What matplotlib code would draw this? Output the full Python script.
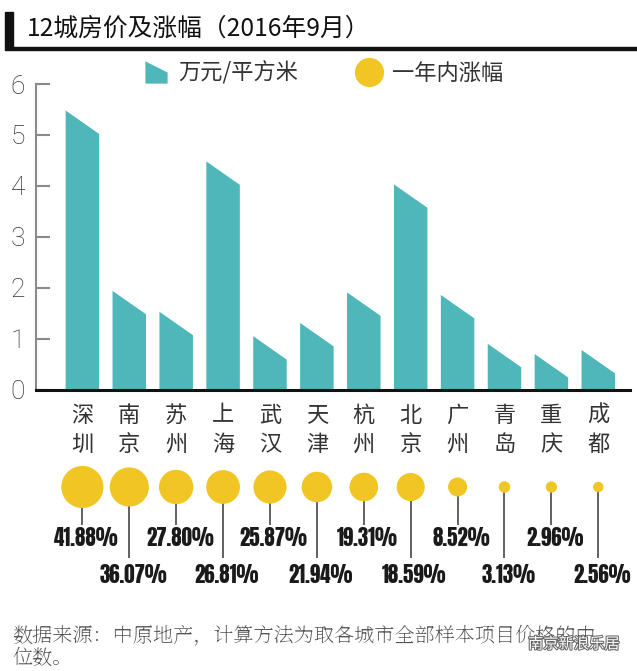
import matplotlib
matplotlib.use("Agg")
import matplotlib.pyplot as plt
from matplotlib.patches import Rectangle
from matplotlib.lines import Line2D
from matplotlib.path import Path
import matplotlib.patheffects as pe
import logging
logging.getLogger("matplotlib.font_manager").setLevel(logging.ERROR)

plt.rcParams['font.family'] = ['Noto Sans CJK SC', 'DejaVu Sans']

# ---------------- data ----------------
cities = ["深圳", "南京", "苏州", "上海", "武汉", "天津", "杭州", "北京", "广州", "青岛", "重庆", "成都"]
prices = [5.48, 1.94, 1.53, 4.48, 1.05, 1.31, 1.91, 4.03, 1.86, 0.90, 0.70, 0.78]   # 万元/平方米
growth = [41.88, 36.07, 27.80, 26.81, 25.87, 21.94, 19.31, 18.59, 8.52, 3.13, 2.96, 2.56]  # 一年内涨幅 %
yticks = [0, 1, 2, 3, 4, 5, 6]
title = "12城房价及涨幅（2016年9月）"
legend_labels = ["万元/平方米", "一年内涨幅"]
footer = "数据来源：中原地产，计算方法为取各城市全部样本项目价格的中\n位数。"

# ---------------- style ----------------
TEAL = "#4fb6b9"
YELLOW = "#f1c624"
W, H = 637, 671
PCT_FONT = ["Anton", "Oswald", "Roboto Condensed", "Archivo Narrow", "DejaVu Sans"]
NUM_FONT = ["Roboto", "Noto Sans CJK SC", "DejaVu Sans"]
SERIF_FONT = ["Noto Serif SC", "Noto Serif CJK SC", "Noto Sans CJK SC", "DejaVu Sans"]

def fx(px):
    return px / W

def fy(py):
    return 1 - py / H

fig = plt.figure(figsize=(W / 100, H / 100), dpi=100)
fig.patch.set_facecolor("white")

# ---------------- main bar axes ----------------
x0, x1 = 36, 630
ytop, ybot = 84, 389.7
ax = fig.add_axes([fx(x0), fy(ybot), (x1 - x0) / W, (ybot - ytop) / H])
bar_w = 0.714
slant = 0.46
n = len(cities)
for i, v in enumerate(prices):
    ax.fill([i - bar_w / 2, i - bar_w / 2, i + bar_w / 2, i + bar_w / 2],
            [0, v, v - slant, 0], color=TEAL, lw=0, zorder=2)
ax.set_xlim(-0.989, 11.676)
ax.set_ylim(0, 6)
for s in ["top", "right"]:
    ax.spines[s].set_visible(False)
ax.spines["left"].set_color("#8a8a8a")
ax.spines["left"].set_linewidth(1.5)
ax.spines["bottom"].set_color("#111111")
ax.spines["bottom"].set_linewidth(2.2)
ax.set_yticks(yticks)
ax.set_yticklabels([str(t) for t in yticks], family=NUM_FONT, fontweight="light")
ax.tick_params(axis="y", direction="in", length=10, width=1.5, color="#8a8a8a",
               labelsize=19, labelcolor="#333333", pad=8)
ax.set_xticks(range(n))
ax.set_xticklabels(["\n".join(c) for c in cities], fontsize=16, color="#333333",
                   linespacing=1.35, fontweight="light")
ax.tick_params(axis="x", length=0, pad=10)

# ---------------- legend ----------------
trap = Path([(-1, 1), (1, 0), (1, -1), (-1, -1), (-1, 1)],
            [Path.MOVETO, Path.LINETO, Path.LINETO, Path.LINETO, Path.CLOSEPOLY])
h1 = Line2D([], [], marker=trap, markersize=16, color=TEAL, lw=0, markeredgewidth=0)
h2 = Line2D([], [], marker="o", markersize=21, color=YELLOW, lw=0, markeredgewidth=0)
leg = fig.legend([h1, h2], legend_labels, ncol=2, loc="center left",
                 bbox_to_anchor=(fx(145), fy(73)), frameon=False, fontsize=16,
                 handlelength=1.0, handletextpad=0.5, columnspacing=2.7,
                 borderpad=0, borderaxespad=0)
for t in leg.get_texts():
    t.set_color("#333333")
    t.set_fontweight("light")

# ---------------- title ----------------
fig.patches.append(Rectangle((fx(5), fy(47)), 8 / W, 35 / H, transform=fig.transFigure,
                             color="#111111", zorder=5))
fig.patches.append(Rectangle((fx(5), fy(49.5)), (W - 5) / W, 2.8 / H, transform=fig.transFigure,
                             color="#111111", zorder=5))
fig.text(fx(27), fy(29), title, fontsize=17.8, color="#111111", va="center", ha="left")

# ---------------- bubbles ----------------
ax2 = fig.add_axes([fx(x0), fy(600), (x1 - x0) / W, 140 / H])
ax2.set_xlim(-0.989, 11.676)
ax2.set_ylim(600, 460)
ax2.axis("off")
cy = 487
row_line_end = [525, 558]
row_text_y = [537.5, 575]
xs = list(range(n))
ax2.vlines(xs, cy, [row_line_end[i % 2] for i in xs], color="#555555", lw=1.3, zorder=2)
ax2.scatter(xs, [cy] * n, s=[22 * g for g in growth], color=YELLOW, lw=0, zorder=3)
for i, g in enumerate(growth):
    ax2.text(i + 0.08, row_text_y[i % 2], f"{g:.2f}%", ha="center", va="center",
             fontsize=15, color="#1a1a1a", family=PCT_FONT)

# ---------------- footer ----------------
fig.text(fx(12), fy(647), footer, fontsize=14.5, color="#555555", va="center", ha="left",
         linespacing=1.05, family=SERIF_FONT)
fig.text(fx(528), fy(644), "南京新浪乐居", fontsize=11, color="white", va="center", ha="left",
         path_effects=[pe.withStroke(linewidth=1.5, foreground="#666666")])

fig.savefig("out.png", dpi=100, facecolor="white")
